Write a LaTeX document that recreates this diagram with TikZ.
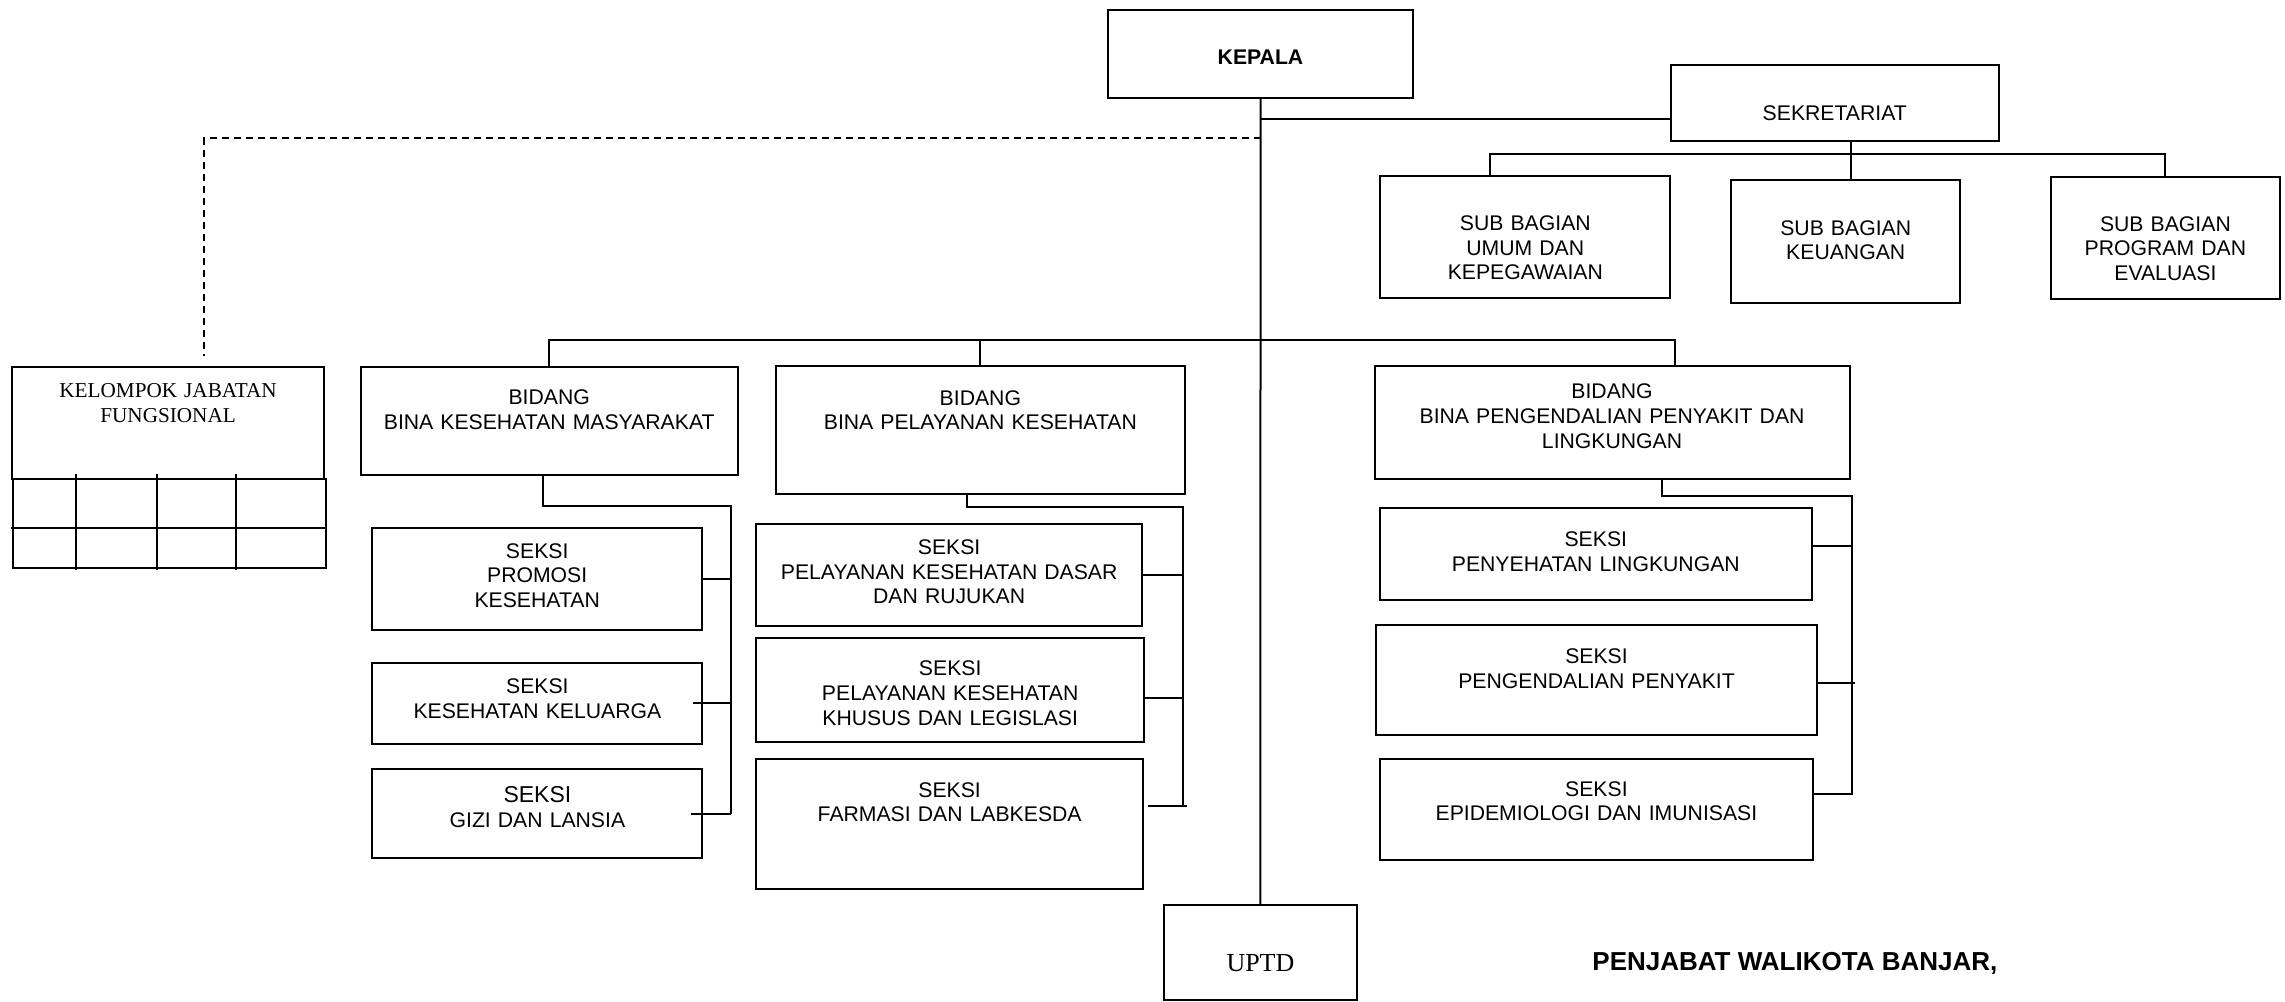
\documentclass[tikz,border=0pt]{standalone}
\usepackage{fontspec}
\setmainfont{Liberation Sans}
\newfontfamily\serifunit{Liberation Serif}
\tikzset{
    orgbox/.style n args={3}{
        draw,
        line width=1pt,
        anchor=north west,
        inner sep=0pt,
        align=center,
        text width=#1,
        text height=#2,
        text depth=#3,
        font=\fontsize{10.6}{12.3}\selectfont,
    },
    link/.style={line width=1pt},
    gridline/.style={line width=1pt},
    signature/.style={
        font=\bfseries\fontsize{13}{15}\selectfont,
        inner sep=0pt,
        anchor=base west,
    },
}
\begin{document}
\begin{tikzpicture}[x=0.5pt, y=-0.5pt]
    \useasboundingbox (0,0) rectangle (2285,1001);
    % Kepala and sekretariat
    \node[orgbox={152.5pt}{27.3pt}{16.85pt}, font=\bfseries\fontsize{10.6}{12.3}\selectfont] (kepala) at (1107,8.7) {KEPALA};
    \node[orgbox={164.25pt}{27.85pt}{10.25pt}] (sek) at (1669.5,64.1) {SEKRETARIAT};
    \node[orgbox={144.9pt}{27.5pt}{33.6pt}] (umum) at (1379.4,174.6) {SUB BAGIAN\\UMUM DAN\\KEPEGAWAIAN};
    \node[orgbox={114.3pt}{27.35pt}{33.75pt}] (keu) at (1730.4,179.3) {SUB BAGIAN\\KEUANGAN};
    \node[orgbox={114.4pt}{27.35pt}{33.75pt}] (prog) at (2050,175.6) {SUB BAGIAN\\PROGRAM DAN\\EVALUASI};
    % Kelompok jabatan fungsional, serif text
    \node[orgbox={155.9pt}{15.3pt}{41.15pt}, font=\serifunit\fontsize{10.6}{12.45}\selectfont] (kjf) at (11.2,365.5) {KELOMPOK JABATAN\\FUNGSIONAL};
    % Bidang
    \node[orgbox={188.5pt}{19.1pt}{35.05pt}] (bkm) at (359.7,365.5) {BIDANG\\BINA KESEHATAN MASYARAKAT};
    \node[orgbox={204.35pt}{19.35pt}{44.45pt}] (bpk) at (775,365.3) {BIDANG\\BINA PELAYANAN KESEHATAN};
    \node[orgbox={237.55pt}{16.4pt}{40.1pt}] (bp2l) at (1373.5,365) {BIDANG\\BINA PENGENDALIAN PENYAKIT DAN\\LINGKUNGAN};
    % Seksi, first column
    \node[orgbox={164.8pt}{15.3pt}{35.65pt}] (promo) at (371.4,526.6) {SEKSI\\PROMOSI\\KESEHATAN};
    \node[orgbox={165pt}{15.5pt}{25.45pt}] (kel) at (371.4,661.5) {SEKSI\\KESEHATAN KELUARGA};
    \node[orgbox={165pt}{16.5pt}{27.6pt}] (gizi) at (371.4,768.4) {{\fontsize{11.5}{12.65}\selectfont SEKSI}\\GIZI DAN LANSIA};
    % Seksi, second column
    \node[orgbox={193.15pt}{15.35pt}{35.45pt}] (pkdr) at (755,523) {SEKSI\\PELAYANAN KESEHATAN DASAR\\DAN RUJUKAN};
    \node[orgbox={194.2pt}{18.95pt}{33.2pt}] (pkkl) at (755,637) {SEKSI\\PELAYANAN KESEHATAN\\KHUSUS DAN LEGISLASI};
    \node[orgbox={193.65pt}{18.95pt}{45.85pt}] (farm) at (755,758.2) {SEKSI\\FARMASI DAN LABKESDA};
    % Seksi, third column
    \node[orgbox={215.8pt}{19.15pt}{26.5pt}] (peny) at (1379,507.3) {SEKSI\\PENYEHATAN LINGKUNGAN};
    \node[orgbox={220.1pt}{19.15pt}{35.5pt}] (peng) at (1375.4,624.3) {SEKSI\\PENGENDALIAN PENYAKIT};
    \node[orgbox={216.4pt}{18.4pt}{31.85pt}] (epid) at (1379,758.2) {SEKSI\\EPIDEMIOLOGI DAN IMUNISASI};
    % UPTD and signature
    \node[orgbox={96.15pt}{33.2pt}{14.1pt}, font=\serifunit\fontsize{13}{15}\selectfont] (uptd) at (1163.3,904.4) {UPTD};
    \node[signature] (sign) at (1592,970) {PENJABAT WALIKOTA BANJAR,};

    % Table below kelompok jabatan fungsional
    \draw[gridline] (12.8,479) rectangle (325.5,567.5);
    \draw[gridline] (11,528) -- (325.5,528);
    \draw[gridline] (75.5,474) -- (75.5,570) (157,474) -- (157,570) (235.7,474) -- (235.7,570);

    % Kepala down to UPTD
    \draw[link] (kepala.south) -- (uptd.north);
    % Kepala to sekretariat
    \coordinate (seklink) at ([yshift=-7.9pt]sek.west);
    \draw[link] (seklink) -- (seklink -| kepala.south);
    % Dashed line to kelompok jabatan fungsional
    \coordinate (dashjoin) at ([yshift=-19.5pt]kepala.south);
    \coordinate (kjflink) at ([xshift=18pt,yshift=4.75pt]kjf.north);
    \draw[link, dash pattern=on 3.5pt off 2.5pt] (dashjoin) -| (kjflink);
    % Sekretariat to sub bagian
    \coordinate (sekdrop) at ([xshift=8.25pt]sek.south);
    \draw[link] (sekdrop) -- (sekdrop |- keu.north);
    \coordinate (umumdrop) at ([xshift=-17.85pt]umum.north);
    \draw[link] (umumdrop) -- ++(0,-20.9) -| (prog.north);
    % Bus over the bidang
    \coordinate (pldrop) at ([xshift=31.5pt]bp2l.north);
    \draw[link] (bkm.north) -- ++(0,-25.5) -| (pldrop);
    \draw[link] (bpk.north) -- ++(0,-25.3);

    % Seksi under bidang bina kesehatan masyarakat
    \coordinate (kmrail) at ([xshift=13.6pt]gizi.east);
    \draw[link] ([xshift=-2.9pt]bkm.south) -- ++(0,29.8) -| (kmrail);
    \draw[link] (promo.east) -- (promo.east -| kmrail);
    \draw[link] ([xshift=-5pt]kel.east) -- (kel.east -| kmrail);
    \draw[link] ([xshift=-6.3pt]gizi.east) -- (kmrail);
    % Seksi under bidang bina pelayanan kesehatan
    \coordinate (farmlink) at ([xshift=2pt,yshift=9pt]farm.east);
    \coordinate (pkrail) at ([xshift=19.35pt,yshift=9pt]farm.east);
    \draw[link] ([xshift=-6.8pt]bpk.south) -- ++(0,12.3) -| (pkrail);
    \draw[link] (pkdr.east) -- (pkdr.east -| pkrail);
    \draw[link] ([yshift=-3.75pt]pkkl.east) -- ++(37.6,0);
    \draw[link] (farmlink) -- ++(38.3,0);
    % Seksi under bidang bina pengendalian penyakit dan lingkungan
    \coordinate (plrail) at ([xshift=18.85pt,yshift=7.6pt]epid.east);
    \draw[link] ([xshift=25pt]bp2l.south) -- ++(0,16) -| (plrail) -- ([yshift=7.6pt]epid.east);
    \draw[link] ([yshift=4pt]peny.east) -- ++(38.9,0);
    \draw[link] ([xshift=-1pt,yshift=-1.7pt]peng.east) -- ++(39,0);
\end{tikzpicture}
\end{document}
